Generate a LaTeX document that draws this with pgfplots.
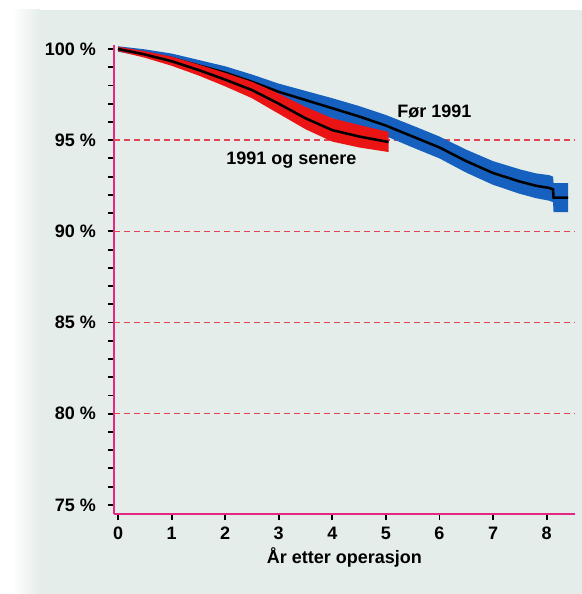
\documentclass[border=0pt]{standalone}
\usepackage{pgfplots}
\pgfplotsset{compat=1.18}
\usepackage{pgfplotstable}
\usepackage{fontspec}
\setmainfont{Liberation Sans}
\definecolor{bg}{RGB}{228,237,233}
\definecolor{axmag}{RGB}{228,40,130}
\definecolor{gridred}{RGB}{226,70,85}
\definecolor{bandblue}{RGB}{22,96,192}
\definecolor{bandred}{RGB}{235,20,20}

% centre lines
\pgfplotstableread{
x y
0 100
0.5 99.78
1 99.5
1.5 99.1
2 98.7
2.5 98.2
3 97.65
3.5 97.2
4 96.75
4.5 96.3
5 95.8
5.5 95.2
6 94.6
6.5 93.85
7 93.2
7.5 92.73
7.8 92.5
8.05 92.38
8.12 92.3
8.13 91.85
8.4 91.85
}\tabBefore

\pgfplotstableread{
x y
0 100
0.5 99.7
1 99.33
1.5 98.85
2 98.32
2.5 97.75
3 97.0
3.5 96.2
4 95.55
4.5 95.2
5.05 94.9
}\tabAfter

% confidence bands: upper edge forward, lower edge back
\pgfplotstableread{
x y
0 100.15
0.5 99.98
1 99.75
1.5 99.4
2 99.05
2.5 98.6
3 98.1
3.5 97.7
4 97.3
4.5 96.87
5 96.38
5.5 95.8
6 95.2
6.5 94.48
7 93.85
7.5 93.4
7.8 93.18
8.05 93.08
8.12 93.0
8.13 92.65
8.4 92.65
8.4 91.05
8.13 91.05
8.12 91.6
8.05 91.68
7.8 91.82
7.5 92.06
7 92.55
6.5 93.22
6 94.0
5.5 94.6
5 95.22
4.5 95.73
4 96.2
3.5 96.7
3 97.2
2.5 97.8
2 98.35
1.5 98.8
1 99.25
0.5 99.58
0 99.85
}\bandBefore

\pgfplotstableread{
x y
0 100.12
0.5 99.88
1 99.58
1.5 99.15
2 98.69
2.5 98.2
3 97.55
3.5 96.82
4 96.2
4.5 95.83
5.05 95.45
5.05 94.35
4.5 94.6
4 94.92
3.5 95.6
3 96.45
2.5 97.3
2 97.95
1.5 98.55
1 99.08
0.5 99.52
0 99.88
}\bandAfter

\tikzset{gridln/.style={gridred, dash pattern=on 4.5pt off 3pt, line width=1pt}}

\begin{document}
\begin{tikzpicture}
\fill[white] (-85.5pt,-60pt) rectangle (351pt,385.5pt);
\fill[bg] (-55.5pt,-60pt) rectangle (351pt,378pt);
\shade[left color=white, right color=bg] (-76.5pt,-60pt) rectangle (-55.5pt,378pt);
\begin{axis}[
  at={(0pt,0pt)}, anchor=south west,
  scale only axis, width=345.75pt, height=351.5pt,
  xmin=-0.075, xmax=8.53, ymin=74.5, ymax=100.2,
  axis x line*=bottom, axis y line*=left,
  axis line style={-, axmag, line width=1.1pt},
  xtick={0,1,...,8},
  ytick={75,80,85,90,95,100},
  yticklabels={75 \%,80 \%,85 \%,90 \%,95 \%,100 \%},
  minor ytick={76,77,78,79,81,82,83,84,86,87,88,89,91,92,93,94,96,97,98,99},
  tick align=outside,
  major tick length=4.5pt, minor tick length=4.5pt,
  tick style={black, line width=1.4pt},
  /pgf/number format/assume math mode=true,
  ticklabel style={font=\fontsize{13.5}{16}\selectfont\bfseries},
  yticklabel style={xshift=-5.5pt},
  xticklabel style={yshift=-2pt},
  xlabel={År etter operasjon},
  xlabel style={font=\fontsize{13.5}{16}\selectfont\bfseries, yshift=1.5pt},
]
\draw[gridln] (axis cs:-0.075,80) -- (axis cs:8.53,80);
\draw[gridln] (axis cs:-0.075,85) -- (axis cs:8.53,85);
\draw[gridln] (axis cs:-0.075,90) -- (axis cs:8.53,90);
\draw[gridln] (axis cs:-0.075,95) -- (axis cs:8.53,95);
\addplot[fill=bandblue, draw=none] table[x=x,y=y]{\bandBefore};
\addplot[black, line width=1.9pt] table[x=x,y=y]{\tabBefore};
\addplot[fill=bandred, draw=none] table[x=x,y=y]{\bandAfter};
\addplot[black, line width=1.9pt] table[x=x,y=y]{\tabAfter};
\node[anchor=base, font=\fontsize{13.5}{16}\selectfont\bfseries] at (axis cs:5.905,96.22) {Før 1991};
\node[anchor=base, font=\fontsize{13.5}{16}\selectfont\bfseries] at (axis cs:3.237,93.64) {1991 og senere};
\end{axis}
\path[use as bounding box] (-85.5pt,-60pt) rectangle (351pt,385.5pt);
\end{tikzpicture}
\end{document}
